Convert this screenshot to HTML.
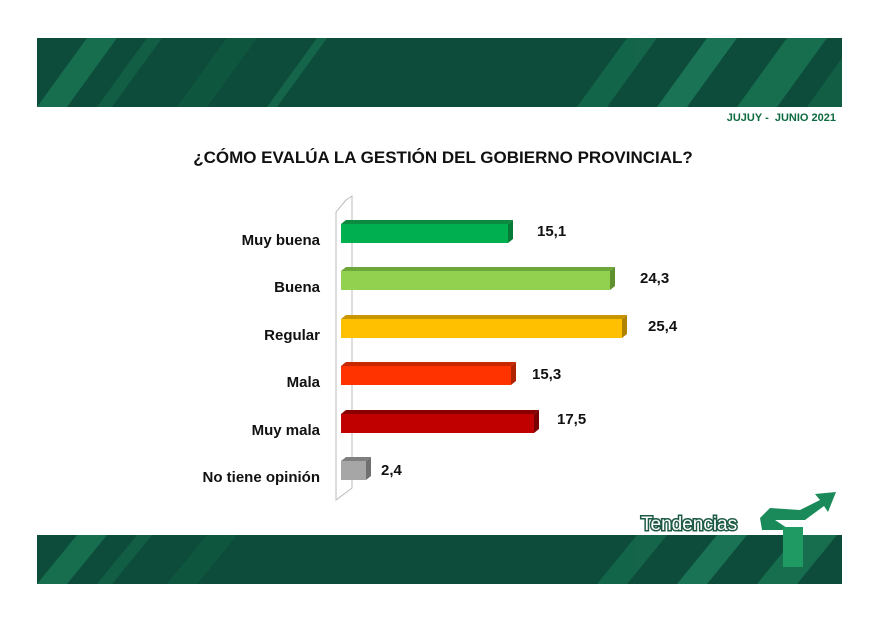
<!DOCTYPE html>
<html><head><meta charset="utf-8"><style>
body{margin:0;width:880px;height:622px;background:#fff;position:relative;overflow:hidden;font-family:"Liberation Sans",sans-serif}
.ban{position:absolute;left:37px;width:805px;overflow:hidden;background:#0d4c3b}
.t{position:absolute;font-weight:bold;color:#111}
.lab{position:absolute;right:560px;font-weight:bold;font-size:15px;color:#111;text-align:right}
.val{position:absolute;font-weight:bold;font-size:15px;color:#111}
</style></head><body>
<div class="ban" style="top:38px;height:69px">
<svg width="805" height="69"><g opacity="0.55">
<polygon points="0,69 50,0 80,0 30,69" fill="#1f8a5e"/>
<polygon points="60,69 110,0 125,0 75,69" fill="#176e4c"/>
<polygon points="140,69 190,0 220,0 170,69" fill="#0f6142"/>
<polygon points="230,69 280,0 290,0 240,69" fill="#1a7a55"/>
<polygon points="540,69 590,0 620,0 570,69" fill="#1a7a55"/>
<polygon points="620,69 670,0 700,0 650,69" fill="#26936a"/>
<polygon points="700,69 750,0 790,0 740,69" fill="#1f8a5e"/>
<polygon points="770,69 805,20 805,69" fill="#176e4c"/>
</g></svg></div>
<div class="t" style="right:44px;top:112px;font-size:11px;color:#0c6b3f">JUJUY - &nbsp;JUNIO 2021</div>
<div class="t" style="left:186px;width:514px;text-align:center;top:148px;font-size:17px;white-space:nowrap">¿CÓMO EVALÚA LA GESTIÓN DEL GOBIERNO PROVINCIAL?</div>
<svg style="position:absolute;left:0;top:0" width="880" height="622">
<polyline points="346,200 352,196 352,488 336,500 336,212 346,200" fill="none" stroke="#bbb" stroke-width="1"/>
<g>
<rect x="341" y="224" width="167" height="19" fill="#00b050"/><polygon points="341,224 346,220 513,220 508,224" fill="#0c8a3f"/><polygon points="508,224 513,220 513,239 508,243" fill="#067a38"/>
<rect x="341" y="271" width="269" height="19" fill="#92d050"/><polygon points="341,271 346,267 615,267 610,271" fill="#6fa83a"/><polygon points="610,271 615,267 615,286 610,290" fill="#5f9130"/>
<rect x="341" y="319" width="281" height="19" fill="#ffc000"/><polygon points="341,319 346,315 627,315 622,319" fill="#c99600"/><polygon points="622,319 627,315 627,334 622,338" fill="#b08300"/>
<rect x="341" y="366" width="170" height="19" fill="#ff3300"/><polygon points="341,366 346,362 516,362 511,366" fill="#c72800"/><polygon points="511,366 516,362 516,381 511,385" fill="#b02300"/>
<rect x="341" y="414" width="193" height="19" fill="#c00000"/><polygon points="341,414 346,410 539,410 534,414" fill="#8a0000"/><polygon points="534,414 539,410 539,429 534,433" fill="#7a0000"/>
<rect x="341" y="461" width="25" height="19" fill="#a6a6a6"/><polygon points="341,461 346,457 371,457 366,461" fill="#7f7f7f"/><polygon points="366,461 371,457 371,476 366,480" fill="#707070"/>
</g></svg>
<div class="lab" style="top:232px">Muy buena</div>
<div class="lab" style="top:279px">Buena</div>
<div class="lab" style="top:327px">Regular</div>
<div class="lab" style="top:374px">Mala</div>
<div class="lab" style="top:422px">Muy mala</div>
<div class="lab" style="top:469px">No tiene opinión</div>
<div class="val" style="left:537px;top:223px">15,1</div>
<div class="val" style="left:640px;top:270px">24,3</div>
<div class="val" style="left:648px;top:318px">25,4</div>
<div class="val" style="left:532px;top:366px">15,3</div>
<div class="val" style="left:557px;top:411px">17,5</div>
<div class="val" style="left:381px;top:462px">2,4</div>
<div class="ban" style="top:535px;height:49px">
<svg width="805" height="49"><g opacity="0.55">
<polygon points="0,49 40,0 70,0 30,49" fill="#1f8a5e"/>
<polygon points="60,49 100,0 115,0 75,49" fill="#176e4c"/>
<polygon points="130,49 170,0 200,0 160,49" fill="#0f6142"/>
<polygon points="560,49 600,0 630,0 590,49" fill="#1a7a55"/>
<polygon points="640,49 680,0 710,0 670,49" fill="#26936a"/>
<polygon points="720,49 760,0 800,0 760,49" fill="#1f8a5e"/>
</g></svg></div>
<svg style="position:absolute;left:0;top:0" width="880" height="622">
<polygon points="760,518 770,508 800,510 820,500 815,494 836,492 828,512 824,506 805,520 775,520 790,530 762,530" fill="#1a8a5a"/>
<rect x="783" y="527" width="20" height="40" fill="#1f9a63"/>
<text x="641" y="530" font-family="Liberation Sans,sans-serif" font-size="19" fill="#fff" stroke="#1d5a44" stroke-width="3" paint-order="stroke">Tendencias</text>
</svg>
</body></html>
